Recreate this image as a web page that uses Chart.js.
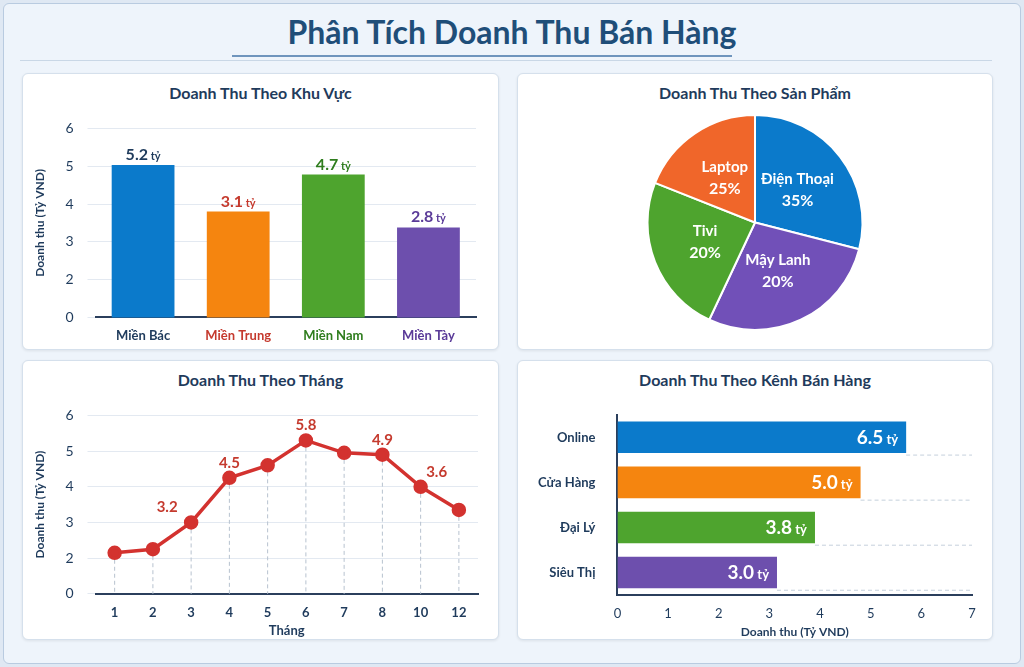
<!DOCTYPE html>
<html>
<head>
<meta charset="utf-8">
<script src="https://cdn.jsdelivr.net/npm/chart.js"></script>
<style>
  body { margin: 0; background: #dfe8f3; font-family: Lato, "Open Sans", sans-serif; }
  #page { position: absolute; left: 3px; top: 3px; width: 1016px; height: 659px; background: #eef4fb; border: 1px solid #b9cbe0; border-radius: 6px; }
  h1 { position: absolute; left: 0; width: 1024px; top: 12px; margin: 0; text-align: center; font-size: 32px; color: #1f4e79; font-weight: 700; }
  #rule { position: absolute; left: 232px; top: 55px; width: 500px; height: 2px; background: #6f95bd; }
  #rule2 { position: absolute; left: 20px; top: 60px; width: 972px; height: 1px; background: #c9d7e6; }
  .panel { position: absolute; background: #fff; border: 1px solid #d5e0ec; border-radius: 6px; box-shadow: 0 1px 3px rgba(0,0,0,0.08); }
  .panel h2 { margin: 0; position: absolute; left: 0; right: 0; top: 9px; text-align: center; font-size: 16px; color: #1f3b5c; font-weight: 700; }
  .panel .box { position: absolute; left: 0; right: 0; bottom: 0; }
</style>
</head>
<body>
<div id="page"></div>
<h1>Phân Tích Doanh Thu Bán Hàng</h1>
<div id="rule"></div>
<div id="rule2"></div>

<div class="panel" style="left:22px;top:73px;width:475px;height:275px">
  <h2>Doanh Thu Theo Khu Vực</h2>
  <div class="box" style="top:32px"><canvas id="regionChart"></canvas></div>
</div>
<div class="panel" style="left:517px;top:73px;width:474px;height:275px">
  <h2>Doanh Thu Theo Sản Phẩm</h2>
  <div class="box" style="top:32px"><canvas id="productChart"></canvas></div>
</div>
<div class="panel" style="left:22px;top:360px;width:475px;height:278px">
  <h2>Doanh Thu Theo Tháng</h2>
  <div class="box" style="top:32px"><canvas id="monthChart"></canvas></div>
</div>
<div class="panel" style="left:517px;top:360px;width:474px;height:278px">
  <h2>Doanh Thu Theo Kênh Bán Hàng</h2>
  <div class="box" style="top:32px"><canvas id="channelChart"></canvas></div>
</div>

<script>
// Region bars
const regions = ["Miền Bác", "Miền Trung", "Miền Nam", "Miền Tày"];
const regionValues = [5.03, 3.8, 4.78, 3.38];
const regionLabels = ["5.2", "3.1", "4.7", "2.8"];
const regionColors = ["#0b7acb", "#f5850f", "#4ea42e", "#6d4fad"];
const regionTextColors = ["#1f3b5c", "#c53a2e", "#2f7d1e", "#5a3a98"];

// Products pie
const products = ["Điện Thoại", "Mậy Lanh", "Tivi", "Laptop"];
const productShares = [29, 28, 24, 19];
const productLabels = ["35%", "20%", "20%", "25%"];
const productColors = ["#0b7acb", "#7150b8", "#4ea42e", "#f0662a"];

// Monthly line
const months = ["1", "2", "3", "4", "5", "6", "7", "8", "10", "12"];
const monthValues = [2.15, 2.25, 3.0, 4.25, 4.6, 5.3, 4.95, 4.9, 4.0, 3.35];
const monthLabels = ["", "", "3.2", "4.5", "", "5.8", "", "4.9", "3.6", ""];

// Channel bars
const channels = ["Online", "Cửa Hàng", "Đại Lý", "Siêu Thị"];
const channelValues = [5.7, 4.8, 3.9, 3.15];
const channelLabels = ["6.5", "5.0", "3.8", "3.0"];
const channelColors = ["#0b7acb", "#f5850f", "#4ea42e", "#6d4fad"];

const FONT = "Lato, 'Open Sans', sans-serif";
const INK = "#1f3b5c";
Chart.defaults.font.family = FONT;
Chart.defaults.color = INK;
Chart.defaults.plugins.legend.display = false;
Chart.defaults.plugins.tooltip.enabled = false;
Chart.defaults.animation = false;
Chart.defaults.maintainAspectRatio = false;

function valueWithTy(ctx, num, x, y, color, size, align) {
  ctx.save();
  ctx.fillStyle = color;
  ctx.textBaseline = "alphabetic";
  ctx.font = "bold " + size + "px " + FONT;
  const w1 = ctx.measureText(num).width;
  ctx.font = "bold " + Math.round(size * 0.7) + "px " + FONT;
  const w2 = ctx.measureText(" tỷ").width;
  let start = align === "right" ? x - w1 - w2 : x - (w1 + w2) / 2;
  ctx.font = "bold " + size + "px " + FONT;
  ctx.textAlign = "left";
  ctx.fillText(num, start, y);
  ctx.font = "bold " + Math.round(size * 0.7) + "px " + FONT;
  ctx.fillText(" tỷ", start + w1, y);
  ctx.restore();
}

// the picture labels its lowest gridline "0" although it sits one step below 2
const yTick = (v) => v === 1 ? "0" : v;

new Chart(document.getElementById("regionChart"), {
  type: "bar",
  data: { labels: regions, datasets: [{ data: regionValues, backgroundColor: regionColors, barPercentage: 0.66, categoryPercentage: 1 }] },
  options: {
    layout: { padding: { left: 6, right: 22, top: 8, bottom: 2 } },
    scales: {
      x: { grid: { display: false }, border: { color: "#2b3f5c", width: 2 },
           ticks: { color: (c) => regionTextColors[c.index], font: { size: 13, weight: "bold" } } },
      y: { min: 1, max: 6, ticks: { stepSize: 1, font: { size: 14 }, padding: 14, callback: yTick },
           grid: { color: "#e3e9f1" }, border: { display: false },
           title: { display: true, text: "Doanh thu (Tỷ VND)", font: { size: 12, weight: "bold" } } }
    }
  },
  plugins: [{
    afterDatasetsDraw(chart) {
      chart.getDatasetMeta(0).data.forEach((bar, i) => {
        valueWithTy(chart.ctx, regionLabels[i], bar.x, bar.y - 5, regionTextColors[i], 16);
      });
    }
  }]
});

new Chart(document.getElementById("productChart"), {
  type: "pie",
  data: { labels: products, datasets: [{ data: productShares, backgroundColor: productColors, borderColor: "#fff", borderWidth: 2 }] },
  options: {
    layout: { padding: { top: 8, bottom: 18, left: 0, right: 0 } }
  },
  plugins: [{
    afterDatasetsDraw(chart) {
      const ctx = chart.ctx;
      chart.getDatasetMeta(0).data.forEach((arc, i) => {
        const p = arc.tooltipPosition();
        ctx.save();
        ctx.fillStyle = "#fff";
        ctx.textAlign = "center";
        ctx.font = "bold 15px " + FONT;
        ctx.fillText(products[i], p.x, p.y - 6);
        ctx.font = "bold 16px " + FONT;
        ctx.fillText(productLabels[i], p.x, p.y + 16);
        ctx.restore();
      });
    }
  }]
});

new Chart(document.getElementById("monthChart"), {
  type: "line",
  data: { labels: months, datasets: [{ data: monthValues, borderColor: "#d3322f", backgroundColor: "#d3322f", borderWidth: 3.5, pointRadius: 5.5, tension: 0 }] },
  options: {
    layout: { padding: { left: 6, right: 20, top: 8, bottom: 0 } },
    scales: {
      x: { offset: true, grid: { display: false }, border: { color: "#2b3f5c", width: 2 },
           ticks: { font: { size: 13, weight: "bold" } },
           title: { display: true, text: "Tháng", font: { size: 13, weight: "bold" }, padding: 0 } },
      y: { min: 1, max: 6, ticks: { stepSize: 1, font: { size: 14 }, padding: 14, callback: yTick },
           grid: { color: "#e3e9f1" }, border: { display: false },
           title: { display: true, text: "Doanh thu (Tỷ VND)", font: { size: 12, weight: "bold" } } }
    }
  },
  plugins: [{
    beforeDatasetsDraw(chart) {
      const ctx = chart.ctx, base = chart.scales.y.bottom;
      ctx.save();
      ctx.strokeStyle = "#b7c2cf"; ctx.setLineDash([4, 3]); ctx.lineWidth = 1;
      chart.getDatasetMeta(0).data.forEach((pt) => {
        ctx.beginPath(); ctx.moveTo(pt.x, pt.y); ctx.lineTo(pt.x, base); ctx.stroke();
      });
      ctx.restore();
    },
    afterDatasetsDraw(chart) {
      const ctx = chart.ctx;
      ctx.save();
      ctx.fillStyle = "#c53a2e"; ctx.font = "bold 15px " + FONT; ctx.textAlign = "center";
      chart.getDatasetMeta(0).data.forEach((pt, i) => {
        if (!monthLabels[i]) return;
        let dx = 0;
        if (i === 2) dx = -24; if (i === 8) dx = 16;
        ctx.fillText(monthLabels[i], pt.x + dx, pt.y - 10);
      });
      ctx.restore();
    }
  }]
});

new Chart(document.getElementById("channelChart"), {
  type: "bar",
  data: { labels: channels, datasets: [{ data: channelValues, backgroundColor: channelColors, barPercentage: 0.7, categoryPercentage: 1 }] },
  options: {
    indexAxis: "y",
    layout: { padding: { left: 6, right: 20, top: 8, bottom: 0 } },
    scales: {
      x: { min: 0, max: 7, ticks: { stepSize: 1, font: { size: 13 } }, grid: { display: false },
           border: { color: "#2b3f5c", width: 2 },
           title: { display: true, text: "Doanh thu (Tỷ VND)", font: { size: 12, weight: "bold" }, padding: 0 } },
      y: { grid: { display: false }, border: { color: "#2b3f5c", width: 2 },
           ticks: { font: { size: 13, weight: "bold" }, padding: 14 } }
    }
  },
  plugins: [{
    beforeDatasetsDraw(chart) {
      const ctx = chart.ctx, right = chart.chartArea.right;
      ctx.save();
      ctx.strokeStyle = "#c5d0dc"; ctx.setLineDash([4, 3]);
      chart.getDatasetMeta(0).data.forEach((bar) => {
        const y = bar.y + bar.height / 2 + 2;
        ctx.beginPath(); ctx.moveTo(bar.x, y); ctx.lineTo(right, y); ctx.stroke();
      });
      ctx.restore();
    },
    afterDatasetsDraw(chart) {
      chart.getDatasetMeta(0).data.forEach((bar, i) => {
        valueWithTy(chart.ctx, channelLabels[i], bar.x - 8, bar.y + 7, "#fff", 19, "right");
      });
    }
  }]
});
</script>
</body>
</html>
